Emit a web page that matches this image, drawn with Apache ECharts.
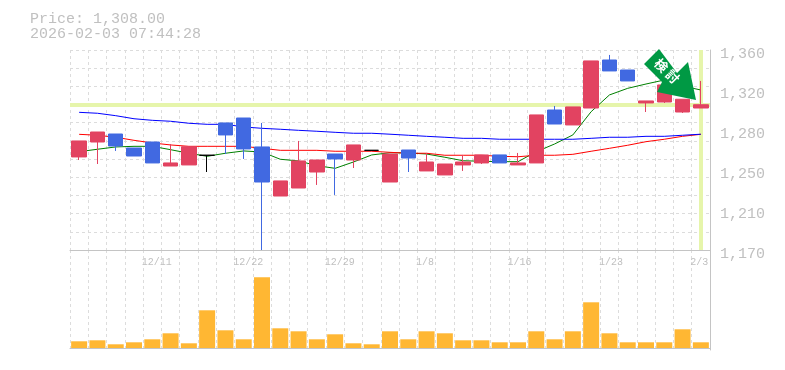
<!DOCTYPE html>
<html><head><meta charset="utf-8">
<style>html,body{margin:0;padding:0;background:#fff}#c{width:785px;height:370px}</style>
<script src="https://cdn.jsdelivr.net/npm/echarts@6/dist/echarts.min.js"></script>
</head><body><div id="c"></div>
<script>
const xLabels = ['','','','','12/11','','','','','12/22','','','','','12/29','','','','','1/8','','','','','1/16','','','','','1/23','','','','','2/3'];
const yLabels = ['1,170','1,210','1,250','1,280','1,320','1,360'];
const titleText = 'Price: 1,308.00\n2026-02-03 07:44:28';
const lastPrice = 1308;
const opens  = [1258.4,1272.6,1280.2,1266.9,1272.6,1249.8,1250.8,1260,1290.7,1295.4,1267.9,1221.3,1228.9,1244.1,1261.2,1255.5,1264.7,1234.6,1265,1245.1,1241.3,1250.8,1252.7,1260.3,1250.8,1252.7,1303,1288.8,1304.9,1350.5,1341,1309.7,1310.6,1301.1,1304.9];
const closes = [1273.6,1282.1,1268.8,1259.3,1252.7,1252.7,1268.1,1260,1279.3,1266,1234.6,1235.6,1254.6,1255.5,1256.5,1269.8,1264.7,1261.2,1257.4,1253.6,1251.7,1253.6,1260.3,1252.7,1252.7,1298.3,1289.7,1305.9,1349.6,1340.1,1330.6,1311.6,1326.8,1313.2,1308];
const lows   = [1255.5,1251.7,1264.1,1259.3,1252.7,1249.8,1250.8,1244.1,1261.2,1256.5,1170,1221.3,1228.9,1231.8,1222.3,1247.9,1264.7,1234.6,1244.1,1245.1,1241.3,1245.1,1251.7,1252.7,1250.8,1252.7,1289.7,1288.8,1304.9,1340.1,1330.6,1301.1,1309.7,1300.2,1304.9];
const highs  = [1273.6,1282.1,1280.2,1266.9,1272.6,1270.7,1268.1,1260,1290.7,1295.4,1290.7,1235.6,1273.6,1255.5,1261.2,1269.8,1264.7,1261.2,1265,1262.2,1251.7,1260.3,1260.3,1260.3,1262.2,1298.3,1306.8,1305.9,1349.6,1355.3,1341,1311.6,1326.8,1313.2,1330.6];
const ma5    = [1263.4,1265.7,1267.9,1268.5,1268.5,1265.3,1261.9,1259,1261.9,1264.1,1263.1,1256.2,1254.6,1250.1,1247.6,1253.6,1260.3,1262.4,1262.2,1261.2,1258.1,1254.8,1254.3,1253.9,1253.9,1263.4,1270.7,1279.3,1301.4,1317.3,1323.6,1327.7,1331.5,1325.8,1322];
const ma25   = [1279.9,1279,1277.1,1274.2,1271.7,1269.8,1268.5,1268.5,1268.5,1268.5,1266.6,1264.7,1264.7,1264.7,1263.8,1263.8,1263.8,1262.8,1261.9,1261.9,1260,1260,1260,1259,1258.6,1260,1260,1260.9,1263.8,1266.6,1269.5,1272.9,1275.2,1278,1279.9];
const ma75   = [1300.8,1299.9,1297.6,1294.7,1293.2,1292.3,1290.4,1289.4,1289.4,1286.9,1285.6,1284.7,1283.7,1282.8,1281.8,1280.9,1280.9,1280,1279,1278,1277.1,1276.1,1276.1,1275.2,1275.2,1275.2,1275.2,1275.2,1276.1,1277.1,1277.1,1278,1278,1279,1280];
const volumes = [6.7,7.7,3.7,5.7,8.7,14.7,4.7,37.7,17.7,8.7,70.7,19.7,16.7,8.7,13.7,4.7,3.7,16.7,8.7,16.7,14.7,7.7,7.7,5.7,5.7,16.7,8.7,16.7,45.7,14.7,5.7,5.7,5.7,18.7,5.7];

const RED='#e24361', BLUE='#4169e1', GRID='#dcdcdc', AXIS='#c4c4c4', TXT='#c0c0c0', YEL='#e6f5ab';
const FONT='"Liberation Mono","DejaVu Sans Mono",monospace';
const candle = opens.map((o,i)=>[o,closes[i],lows[i],highs[i]]);
const dash = {type:[3,3],color:GRID,width:1};
const vSplit = {show:true,interval:0,lineStyle:dash};
const maLine=(d,c,z)=>({type:'line',data:d,xAxisIndex:0,yAxisIndex:0,symbol:'none',silent:true,z:z,
  lineStyle:{color:c,width:1},animation:false});

const chart = echarts.init(document.getElementById('c'),null,{renderer:'canvas'});
chart.setOption({
  animation:false,backgroundColor:'#fff',
  title:{text:titleText,left:30,top:12,padding:0,textStyle:{fontFamily:FONT,fontSize:15,fontWeight:'normal',color:TXT,lineHeight:15}},
  grid:[
    {left:70,top:50,width:640,height:200},
    {left:70,top:250,width:640,height:100},
    {left:70,top:54,width:640,height:200}
  ],
  xAxis:[
    {type:'category',gridIndex:0,data:xLabels,boundaryGap:true,
     axisLine:{show:true,lineStyle:{color:AXIS,width:1}},axisTick:{show:false},
     axisLabel:{show:true,interval:0,margin:7,hideOverlap:false,
       formatter:(v)=>v?'{a|'+v+'}':'',
       rich:{a:{fontFamily:FONT,fontSize:10,color:TXT,width:21,align:'left'}}},
     splitLine:vSplit},
    {type:'category',gridIndex:1,data:xLabels,boundaryGap:true,
     axisLine:{show:true,lineStyle:{color:AXIS,width:1}},axisTick:{show:false},axisLabel:{show:false},splitLine:vSplit},
    {type:'category',gridIndex:2,data:xLabels,show:false}
  ],
  yAxis:[
    {type:'value',gridIndex:0,min:1170,max:1360,interval:38,position:'right',
     axisLine:{show:true,lineStyle:{color:AXIS,width:1}},axisTick:{show:false},axisLabel:{show:false},splitLine:{show:false}},
    {type:'value',gridIndex:0,min:0,max:11,interval:1,show:true,position:'left',
     axisLine:{show:false},axisTick:{show:false},axisLabel:{show:false},splitLine:{show:true,lineStyle:dash}},
    {type:'value',gridIndex:1,min:-2,max:98,position:'right',
     axisLine:{show:true,lineStyle:{color:AXIS,width:1}},axisTick:{show:false},axisLabel:{show:false},splitLine:{show:false}},
    {type:'value',gridIndex:2,min:1170,max:1360,interval:38,position:'right',
     axisLine:{show:false},axisTick:{show:false},splitLine:{show:false},
     axisLabel:{show:true,fontFamily:FONT,fontSize:15,color:TXT,margin:10,
       formatter:(v)=>yLabels[Math.round((v-1170)/38)]}}
  ],
  series:[
    {type:'line',xAxisIndex:0,yAxisIndex:0,data:[],z:1,silent:true,
     markLine:{silent:true,symbol:'none',z:1,label:{show:false},animation:false,
       lineStyle:{color:YEL,width:4,type:'solid'},
       data:[{yAxis:lastPrice},{xAxis:34}]}},
    maLine(ma5,'#008000',2),maLine(ma25,'#ff0000',3),maLine(ma75,'#0000ff',3),
    {type:'candlestick',xAxisIndex:0,yAxisIndex:0,data:candle,barWidth:15,z:4,silent:true,
     itemStyle:{color:RED,color0:BLUE,borderColor:RED,borderColor0:BLUE,borderColorDoji:'#000',borderWidth:1}},
    {type:'bar',xAxisIndex:1,yAxisIndex:2,data:volumes,barWidth:16,z:3,silent:true,itemStyle:{color:'#ffb733'}}
  ],
  graphic:[
    {type:'polygon',z:100,silent:true,
     shape:{points:[[659,49],[644,64],[662,82],[657,92],[696,100],[688,62],[677,73]]},
     style:{fill:'#009944'}},
    {type:'text',z:101,silent:true,x:667,y:71,rotation:-Math.PI/4,
     style:{text:'検 討',fill:'#fff',fontSize:13,fontWeight:'bold',fontFamily:'"Noto Sans CJK JP"',align:'center',verticalAlign:'middle'}}
  ]
});
</script></body></html>
